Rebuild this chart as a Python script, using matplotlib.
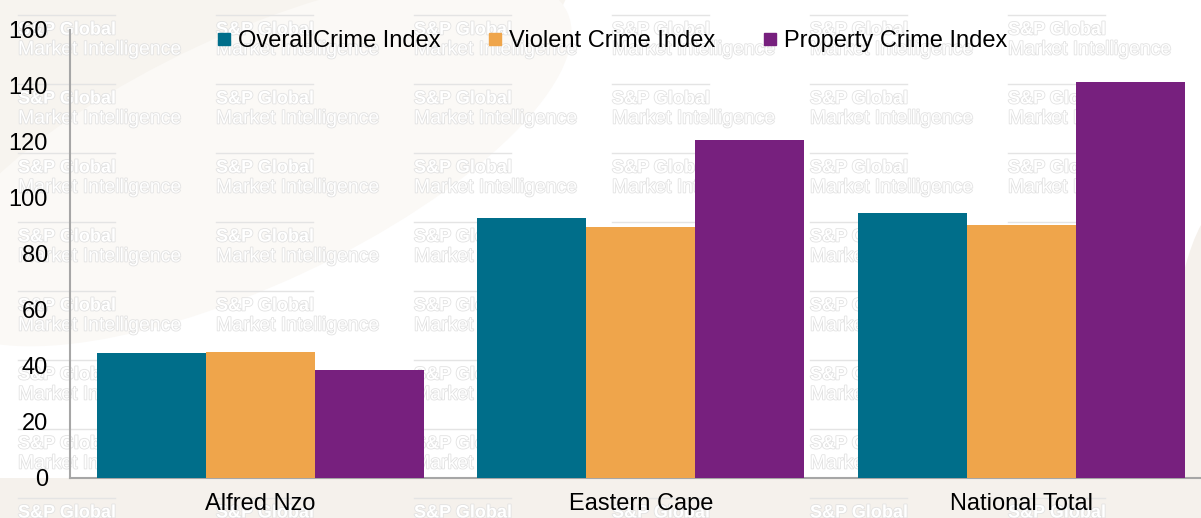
import matplotlib
matplotlib.use("Agg")
import matplotlib.pyplot as plt
import numpy as np
from matplotlib.lines import Line2D
from matplotlib.patches import Ellipse, Rectangle
import matplotlib.patheffects as pe

categories = ["Alfred Nzo", "Eastern Cape", "National Total"]
series_names = ["OverallCrime Index", "Violent Crime Index", "Property Crime Index"]
overall = [44.6, 92.7, 94.8]
violent = [45.1, 89.8, 90.5]
property_ = [38.4, 120.8, 141.6]
colors = ["#006e8a", "#efa54b", "#77207e"]
yticks = [0, 20, 40, 60, 80, 100, 120, 140, 160]

plt.rcParams['font.family'] = ['Liberation Sans', 'DejaVu Sans']

W, H = 1201, 518
fig = plt.figure(figsize=(W / 100, H / 100), dpi=100)
fig.patch.set_facecolor("white")

# background decoration (beige swoosh)
bg = fig.add_axes([0, 0, 1, 1], zorder=-10)
bg.set_xlim(0, W)
bg.set_ylim(H, 0)
bg.axis("off")
bg.add_patch(Ellipse((150, 60), 900, 420, angle=-20, color="#f7f4ef", lw=0))
bg.add_patch(Ellipse((250, 160), 700, 250, angle=-25, color="#fbf9f6", lw=0))
bg.add_patch(Rectangle((0, 478), W, 40, color="#f5f1ec", lw=0))
bg.add_patch(Ellipse((1230, 400), 120, 400, color="#f5f1ec", lw=0))
# watermark
for cx in [18, 216, 414, 612, 810, 1008]:
    for ry in [30, 99, 168, 237, 306, 375, 444, 513]:
        bg.plot([cx, cx + 97], [ry - 15, ry - 15], color="#e4e4e4", lw=1)
        bg.text(cx, ry, "S&P Global", fontsize=13, fontweight="bold", color="white",
                va="center", ha="left",
                path_effects=[pe.withStroke(linewidth=1.2, foreground="#e2e2e2")])
        bg.text(cx, ry + 20, "Market Intelligence", fontsize=14, color="white",
                va="center", ha="left",
                path_effects=[pe.withStroke(linewidth=1.2, foreground="#e2e2e2")])

ax = fig.add_axes([70 / W, 1 - 478 / H, 1141.5 / W, 448 / H])
ax.patch.set_alpha(0)

x = np.arange(len(categories))
bw = 0.2865
for i, (vals, c) in enumerate(zip([overall, violent, property_], colors)):
    ax.bar(x + (i - 1) * bw, vals, width=bw, color=c, zorder=3)

ax.set_xlim(-0.5, 2.5)
ax.set_ylim(0, 160)
ax.set_yticks(yticks)
ax.set_xticks(x)
ax.set_xticklabels(categories, fontsize=17)
ax.tick_params(axis="y", length=0, pad=16, labelsize=17)
ax.tick_params(axis="x", length=0, pad=11)
for s in ["top", "right"]:
    ax.spines[s].set_visible(False)
for s in ["left", "bottom"]:
    ax.spines[s].set_color("#a6a6a6")
    ax.spines[s].set_linewidth(1.5)

handles = [Line2D([], [], marker="s", linestyle="none", markersize=9,
                  markerfacecolor=c, markeredgecolor=c) for c in colors]
fig.legend(handles, series_names, loc="center", bbox_to_anchor=(612 / W, 1 - 41 / H),
           ncol=3, frameon=False, fontsize=17, handlelength=0.6, handletextpad=0.3,
           columnspacing=2.0, borderpad=0)

fig.savefig("out.png", dpi=100, facecolor=fig.get_facecolor())
